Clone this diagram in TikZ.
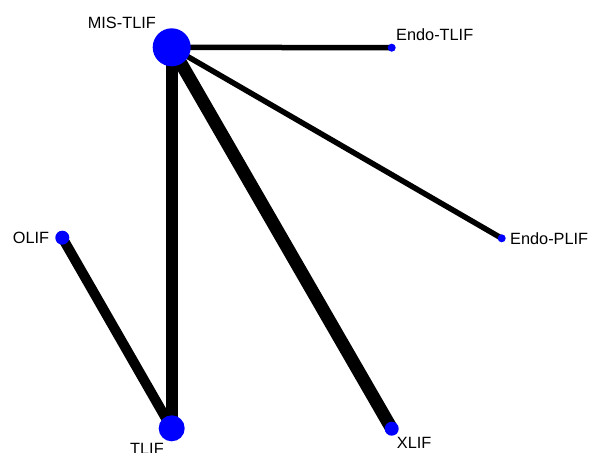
\documentclass[tikz,border=0pt]{standalone}
\usepackage{fontspec}
\setmainfont{Liberation Sans}
\usetikzlibrary{positioning}
\pgfdeclarelayer{bg}
\pgfsetlayers{bg,main}

\begin{document}
\begin{tikzpicture}[x=1pt, y=-1pt, font=\fontsize{16.3}{18}\selectfont,
    trt/.style={circle, fill=blue, inner sep=0pt, minimum size=#1},
    lbl/.style={inner sep=0pt},
    link/.style={line width=#1, draw=black}]
    \clip (0,0) rectangle (593,452);
    % treatments, sized by number of patients
    \node[trt=38] (mis) at (171.7,47.3) {};    \node[trt=8] (endot) at (391.7,47.7) {};
    \node[trt=8] (endop) at (501.7,238.3) {};  \node[trt=14] (olif) at (62.3,237.7) {};
    \node[trt=26] (tlif) at (171.7,428.3) {};  \node[trt=14] (xlif) at (391.7,428.7) {};
    \node[lbl, anchor=base east] (misl) at (156,28.3) {MIS-TLIF};
    \node[lbl, anchor=base west] (endotl) at (396,41) {Endo-TLIF};
    \node[lbl, anchor=base west] (endopl) at (510,244) {Endo-PLIF};
    \node[lbl, anchor=base east] (olifl) at (49.3,243.3) {OLIF};
    \node[lbl, anchor=base west] (tlifl) at (130,454.5) {TLIF};
    \node[lbl, anchor=base west] (xlifl) at (396.7,448.4) {XLIF};
    % direct comparisons, width ~ number of studies
    \begin{pgfonlayer}{bg}
      \draw[link=5.5] (mis.center) -- (endot.center);
      \draw[link=5.5] (mis.center) -- (endop.center);
      \draw[link=12] (mis.center) -- (tlif.center);
      \draw[link=13] (mis.center) -- (xlif.center);
      \draw[link=10] (olif.center) -- (tlif.center);
    \end{pgfonlayer}
\end{tikzpicture}
\end{document}
